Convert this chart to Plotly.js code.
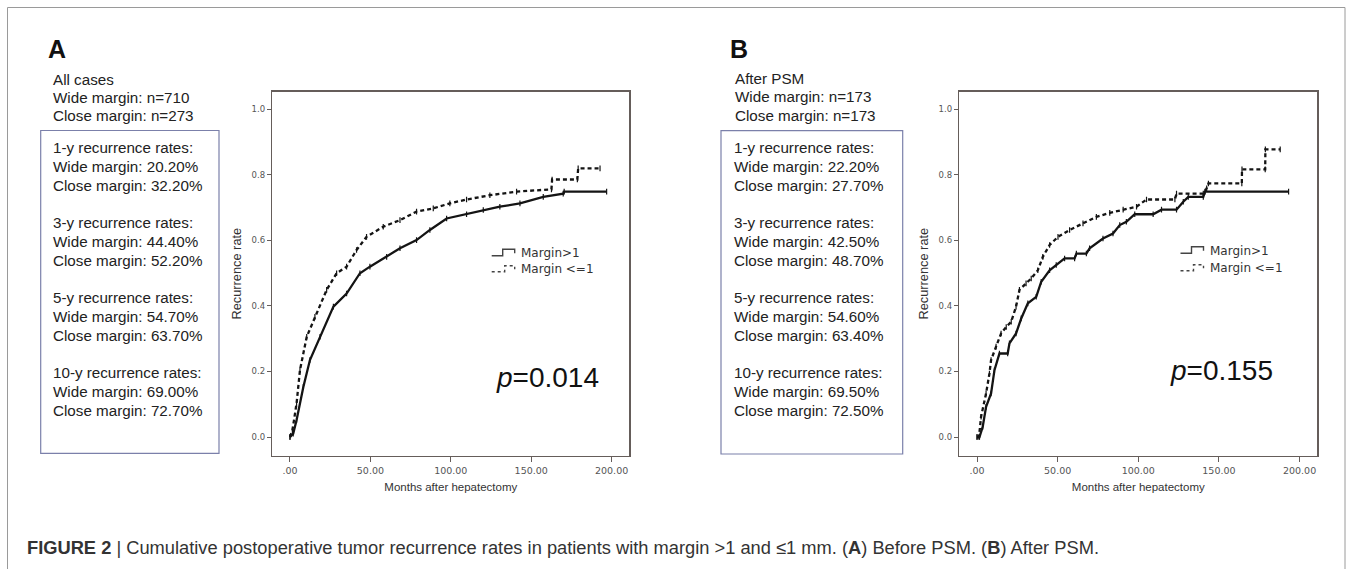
<!DOCTYPE html>
<html>
<head>
<meta charset="utf-8">
<script src="https://cdn.plot.ly/plotly-3.0.1.min.js"></script>
<style>html,body{margin:0;padding:0;background:#fff;}#chart{width:1347px;height:569px;}</style>
</head>
<body>
<div id="chart"></div>
<script>
// ---------- DATA ----------
// Panel A: all cases
const monthsA_wide   = [0, 2, 4.1, 8.3, 12.4, 18.7, 27, 35.2, 43.5, 49.7, 60.1, 68.4, 78.7, 87, 97.4, 109.8, 120.2, 130.5, 143, 157.5, 169.9, 170.5, 196.9];
const rateA_wide     = [0, 0.01, 0.052, 0.153, 0.235, 0.306, 0.398, 0.438, 0.5, 0.52, 0.55, 0.576, 0.601, 0.632, 0.667, 0.68, 0.693, 0.703, 0.713, 0.733, 0.743, 0.749, 0.749];
const monthsA_close  = [0, 1.5, 4.1, 6.2, 10.4, 15.5, 22.8, 29, 35.2, 41.4, 47.6, 58, 68.4, 78.7, 89.1, 99.4, 109.8, 124.3, 140.9, 162.6, 163, 178.7, 179.2, 192.8];
const rateA_close    = [0, 0.02, 0.103, 0.204, 0.306, 0.367, 0.449, 0.5, 0.52, 0.571, 0.611, 0.642, 0.662, 0.688, 0.698, 0.713, 0.725, 0.738, 0.749, 0.756, 0.786, 0.786, 0.82, 0.82];
// Panel B: after PSM
const monthsB_wide   = [0, 1.5, 3.5, 5.6, 8.7, 10.8, 13.9, 19, 20.1, 24.2, 27.4, 31.5, 36.7, 39.8, 45, 49.1, 54.3, 60.5, 61.6, 67.8, 69.8, 78.1, 84.3, 88.5, 92.6, 97.8, 109.2, 114.4, 123.7, 127.9, 131, 140.3, 141.4, 193.2];
const rateB_wide     = [0, 0, 0.031, 0.092, 0.133, 0.204, 0.255, 0.255, 0.286, 0.316, 0.362, 0.408, 0.428, 0.474, 0.509, 0.525, 0.545, 0.545, 0.56, 0.56, 0.576, 0.606, 0.621, 0.647, 0.657, 0.68, 0.68, 0.694, 0.694, 0.718, 0.733, 0.733, 0.749, 0.749];
const monthsB_close  = [0, 1.2, 2.5, 5.6, 7.7, 8.7, 11.8, 14.9, 18.1, 21.2, 24.2, 26.3, 30.4, 33.6, 37.7, 40.8, 45, 50.2, 57.4, 65.7, 74, 82.3, 90.6, 98.9, 105.1, 122.7, 123.7, 140.3, 142.4, 143.5, 164.2, 164.3, 178.7, 178.8, 188];
const rateB_close    = [0, 0, 0.062, 0.133, 0.194, 0.235, 0.276, 0.316, 0.336, 0.352, 0.398, 0.449, 0.469, 0.484, 0.509, 0.55, 0.586, 0.611, 0.632, 0.652, 0.672, 0.684, 0.694, 0.703, 0.725, 0.725, 0.743, 0.743, 0.759, 0.774, 0.774, 0.817, 0.817, 0.878, 0.878];

const seriesNames = ["Margin>1", "Margin <=1"];
const xTickVals = [0, 50, 100, 150, 200];
const xTickText = [".00", "50.00", "100.00", "150.00", "200.00"];
const yTickVals = [0, 0.2, 0.4, 0.6, 0.8, 1.0];
const yTickText = ["0.0", "0.2", "0.4", "0.6", "0.8", "1.0"];
const xTitle = "Months after hepatectomy";
const yTitle = "Recurrence rate";

const panelLetters = ["A", "B"];
const headerA = ["All cases", "Wide margin: n=710", "Close margin: n=273"];
const headerB = ["After PSM", "Wide margin: n=173", "Close margin: n=173"];
const boxA = ["1-y recurrence rates:", "Wide margin: 20.20%", "Close margin: 32.20%", "",
              "3-y recurrence rates:", "Wide margin: 44.40%", "Close margin: 52.20%", "",
              "5-y recurrence rates:", "Wide margin: 54.70%", "Close margin: 63.70%", "",
              "10-y recurrence rates:", "Wide margin: 69.00%", "Close margin: 72.70%"];
const boxB = ["1-y recurrence rates:", "Wide margin: 22.20%", "Close margin: 27.70%", "",
              "3-y recurrence rates:", "Wide margin: 42.50%", "Close margin: 48.70%", "",
              "5-y recurrence rates:", "Wide margin: 54.60%", "Close margin: 63.40%", "",
              "10-y recurrence rates:", "Wide margin: 69.50%", "Close margin: 72.50%"];
const pValues = ["0.014", "0.155"];
const caption = "<b>FIGURE 2</b> | Cumulative postoperative tumor recurrence rates in patients with margin >1 and ≤1 mm. (<b>A</b>) Before PSM. (<b>B</b>) After PSM.";

// ---------- LAYOUT HELPERS ----------
const W = 1347, H = 569;
const px = v => v / W;
const py = v => 1 - v / H;

const lineColor = "#141414";
function km(x, y, name, dashed, xa, ya) {
  return {
    type: "scatter", mode: "lines+markers", x: x, y: y, name: name,
    xaxis: xa, yaxis: ya, showlegend: false,
    line: {shape: "linear", color: lineColor, width: 2.3, dash: dashed ? "4px,3px" : "solid"},
    marker: {symbol: "line-ns-open", size: 4, color: lineColor, line: {width: 1.2, color: lineColor}},
    hoverinfo: "x+y+name"
  };
}

const traces = [
  km(monthsA_wide, rateA_wide, seriesNames[0], false, "x", "y"),
  km(monthsA_close, rateA_close, seriesNames[1], true, "x", "y"),
  km(monthsB_wide, rateB_wide, seriesNames[0], false, "x2", "y2"),
  km(monthsB_close, rateB_close, seriesNames[1], true, "x2", "y2")
];

const axisCol = "#655d5a";
function xAx(domain, anchor) {
  return {
    domain: domain, anchor: anchor, range: [-11, 211],
    tickvals: xTickVals, ticktext: xTickText,
    showgrid: false, zeroline: false, showline: true, mirror: true,
    linecolor: axisCol, linewidth: 1.5, ticks: "outside", ticklen: 5, tickwidth: 1, tickcolor: axisCol,
    tickfont: {family: "DejaVu Sans", size: 9.5, color: "#555"},
    title: {text: xTitle, standoff: 8, font: {family: "Liberation Sans, Arial", size: 11.5, color: "#333"}}
  };
}
function yAx(domain, anchor) {
  return {
    domain: domain, anchor: anchor, range: [-0.057, 1.054],
    tickvals: yTickVals, ticktext: yTickText,
    showgrid: false, zeroline: false, showline: true, mirror: true,
    linecolor: axisCol, linewidth: 1.5, ticks: "outside", ticklen: 4, tickwidth: 1, tickcolor: axisCol,
    tickfont: {family: "DejaVu Sans", size: 8.5, color: "#555"},
    title: {text: yTitle, standoff: 7, font: {family: "Liberation Sans, Arial", size: 12.8, color: "#333"}}
  };
}

const annotations = [];
const textFont = {family: "Liberation Sans, Arial", size: 15.2, color: "#222"};
function addLines(lines, x0, y0, step) {
  lines.forEach((t, i) => {
    if (!t) return;
    annotations.push({xref: "paper", yref: "paper", x: px(x0), y: py(y0 + i * step), text: t,
      showarrow: false, xanchor: "left", yanchor: "middle", align: "left", font: textFont});
  });
}
// panel letters
annotations.push({xref: "paper", yref: "paper", x: px(46), y: py(49), text: "<b>" + panelLetters[0] + "</b>",
  showarrow: false, xanchor: "left", yanchor: "middle", font: {family: "Liberation Sans, Arial", size: 25, color: "#111"}});
annotations.push({xref: "paper", yref: "paper", x: px(728), y: py(49), text: "<b>" + panelLetters[1] + "</b>",
  showarrow: false, xanchor: "left", yanchor: "middle", font: {family: "Liberation Sans, Arial", size: 25, color: "#111"}});
addLines(headerA, 51, 79, 18.4);
addLines(headerB, 733, 78.5, 18.4);
addLines(boxA, 51, 147.5, 18.75);
addLines(boxB, 732, 147.5, 18.75);
// p-values
annotations.push({xref: "paper", yref: "paper", x: px(547.5), y: py(377), text: "<i>p</i>=" + pValues[0],
  showarrow: false, xanchor: "center", yanchor: "middle", font: {family: "Liberation Sans, Arial", size: 28, color: "#111"}});
annotations.push({xref: "paper", yref: "paper", x: px(1221), y: py(370), text: "<i>p</i>=" + pValues[1],
  showarrow: false, xanchor: "center", yanchor: "middle", font: {family: "Liberation Sans, Arial", size: 28, color: "#111"}});
// caption
annotations.push({xref: "paper", yref: "paper", x: px(25), y: py(547), text: caption,
  showarrow: false, xanchor: "left", yanchor: "middle", font: {family: "Liberation Sans, Arial", size: 18.3, color: "#333"}});

const shapes = [
  {type: "rect", xref: "paper", yref: "paper", x0: px(7.5), x1: px(1345), y0: -0.05, y1: py(7.5),
   line: {color: "#9a9a9a", width: 1}},
  {type: "rect", xref: "paper", yref: "paper", x0: px(40.7), x1: px(219), y0: py(453.3), y1: py(130.5),
   line: {color: "#7b80aa", width: 1.2}},
  {type: "rect", xref: "paper", yref: "paper", x0: px(721), x1: px(902.7), y0: py(454), y1: py(130.7),
   line: {color: "#7b80aa", width: 1.2}}
];

// legends (step-shaped keys + labels), one per panel
const legFont = {family: "DejaVu Sans", size: 12, color: "#333"};
function addLegend(x0, yc1, yc2) {
  const P = (x, y) => px(x) + "," + py(y);
  shapes.push({type: "path", xref: "paper", yref: "paper",
    path: "M" + P(x0, yc1 + 2.5) + " L" + P(x0 + 11, yc1 + 2.5) + " L" + P(x0 + 11, yc1 - 4) +
          " L" + P(x0 + 23, yc1 - 4) + " L" + P(x0 + 23, yc1),
    line: {color: "#444", width: 1.4}});
  shapes.push({type: "path", xref: "paper", yref: "paper",
    path: "M" + P(x0, yc2 + 2.5) + " L" + P(x0 + 13, yc2 + 2.5) + " L" + P(x0 + 13, yc2 - 3.5) +
          " L" + P(x0 + 23, yc2 - 3.5) + " L" + P(x0 + 23, yc2),
    line: {color: "#444", width: 1.4, dash: "3px,3px"}});
  annotations.push({xref: "paper", yref: "paper", x: px(x0 + 27.5), y: py(yc1), text: seriesNames[0],
    showarrow: false, xanchor: "left", yanchor: "middle", font: legFont});
  annotations.push({xref: "paper", yref: "paper", x: px(x0 + 27.5), y: py(yc2), text: seriesNames[1],
    showarrow: false, xanchor: "left", yanchor: "middle", font: legFont});
}
addLegend(491.7, 253.3, 269.3);
addLegend(1180.5, 250.7, 268.3);

const layout = {
  width: W, height: H, margin: {l: 0, r: 0, t: 0, b: 0},
  paper_bgcolor: "#fff", plot_bgcolor: "#fff",
  showlegend: false,
  xaxis: xAx([px(272.3), px(629.3)], "y"),
  yaxis: yAx([1 - 455.7 / H, 1 - 91.7 / H], "x"),
  xaxis2: xAx([px(959.3), px(1317.3)], "y2"),
  yaxis2: yAx([1 - 455.7 / H, 1 - 91.7 / H], "x2"),
  annotations: annotations,
  shapes: shapes
};

Plotly.newPlot("chart", traces, layout, {displayModeBar: false, staticPlot: true});
</script>
</body>
</html>
